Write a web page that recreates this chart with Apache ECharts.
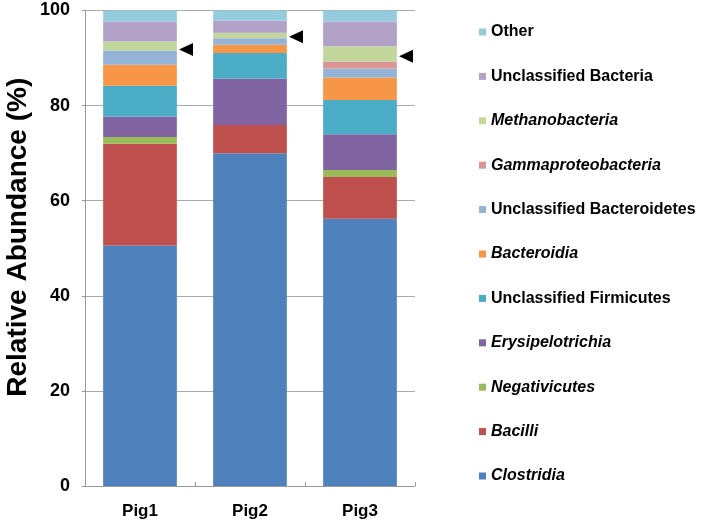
<!DOCTYPE html>
<html><head><meta charset="utf-8">
<script src="https://cdn.jsdelivr.net/npm/echarts@6/dist/echarts.min.js"></script>
<style>html,body{margin:0;padding:0;background:#fff}#c{width:703px;height:526px}</style>
</head><body><div id="c"></div>
<script>
var categories = ['Pig1', 'Pig2', 'Pig3'];
var seriesNames = ['Clostridia', 'Bacilli', 'Negativicutes', 'Erysipelotrichia', 'Unclassified Firmicutes', 'Bacteroidia', 'Unclassified Bacteroidetes', 'Gammaproteobacteria', 'Methanobacteria', 'Unclassified Bacteria', 'Other'];
var italicNames = ['Clostridia', 'Bacilli', 'Negativicutes', 'Erysipelotrichia', 'Bacteroidia', 'Gammaproteobacteria', 'Methanobacteria'];
var clostridia = [50.6, 70.0, 56.2];
var bacilli = [21.4, 5.9, 8.8];
var negativicutes = [1.4, 0, 1.45];
var erysipelotrichia = [4.3, 9.75, 7.55];
var unclFirmicutes = [6.5, 5.4, 7.2];
var bacteroidia = [4.4, 1.75, 4.7];
var unclBacteroidetes = [3.0, 1.35, 1.9];
var gammaproteobacteria = [0, 0, 1.5];
var methanobacteria = [1.9, 1.15, 3.2];
var unclBacteria = [4.2, 2.6, 5.2];
var other = [2.3, 2.1, 2.3];
var arrowValues = [91.8, 94.5, 90.4];
var yTicks = [0, 20, 40, 60, 80, 100];

var values = [clostridia, bacilli, negativicutes, erysipelotrichia, unclFirmicutes, bacteroidia, unclBacteroidetes, gammaproteobacteria, methanobacteria, unclBacteria, other];
var colors = ['#4F81BD', '#C0504D', '#9BBB59', '#8064A2', '#4BACC6', '#F79646', '#95B3D7', '#D99694', '#C3D69B', '#B3A2C7', '#93CDDD'];

var series = seriesNames.map(function (n, i) {
  return {
    name: n, type: 'bar', stack: 'total', barWidth: '67%',
    itemStyle: { color: colors[i] },
    data: values[i], silent: true
  };
});
series.push({
  name: 'arrow', type: 'scatter', data: arrowValues,
  symbol: 'triangle', symbolSize: [13, 14], symbolRotate: 90, symbolOffset: [46, 0],
  itemStyle: { color: '#000', opacity: 1 }, silent: true, z: 10
});

var legendData = seriesNames.slice().reverse().map(function (n) {
  return { name: n, textStyle: { fontStyle: italicNames.indexOf(n) >= 0 ? 'italic' : 'normal' } };
});

var chart = echarts.init(document.getElementById('c'));
chart.setOption({
  animation: false,
  color: colors,
  grid: { left: 85, right: 288, top: 10.5, bottom: 40 },
  legend: {
    orient: 'vertical', left: 479, top: 24, padding: 0,
    itemWidth: 7, itemHeight: 7, itemGap: 28.4,
    icon: 'rect',
    textStyle: { fontFamily: 'Liberation Sans, Arial', fontWeight: 'bold', fontSize: 16, color: '#000', padding: [0, 0, 0, 0] },
    data: legendData, selectedMode: false
  },
  xAxis: {
    type: 'category', data: categories,
    axisLine: { lineStyle: { color: '#999' } },
    axisTick: { show: true, inside: true, length: 4, lineStyle: { color: '#999' } },
    axisLabel: { fontFamily: 'Liberation Sans, Arial', fontWeight: 'bold', fontSize: 17, color: '#000', margin: 17 }
  },
  yAxis: {
    type: 'value', min: 0, max: 100, interval: 20,
    name: 'Relative Abundance (%)', nameLocation: 'middle', nameGap: 53, nameRotate: 90,
    nameTextStyle: { fontFamily: 'Liberation Sans, Arial', fontWeight: 'bold', fontSize: 28, color: '#000', padding: [0, 0, 0, 22] },
    axisLine: { show: true, lineStyle: { color: '#999' } },
    axisTick: { show: true, length: 3, lineStyle: { color: '#999' } },
    splitLine: { lineStyle: { color: '#aaa' } },
    axisLabel: { fontFamily: 'Liberation Sans, Arial', fontWeight: 'bold', fontSize: 18, color: '#000', margin: 15,
      formatter: function (v) { return yTicks.indexOf(v) >= 0 ? String(v) : ''; } }
  },
  series: series
});
</script></body></html>
